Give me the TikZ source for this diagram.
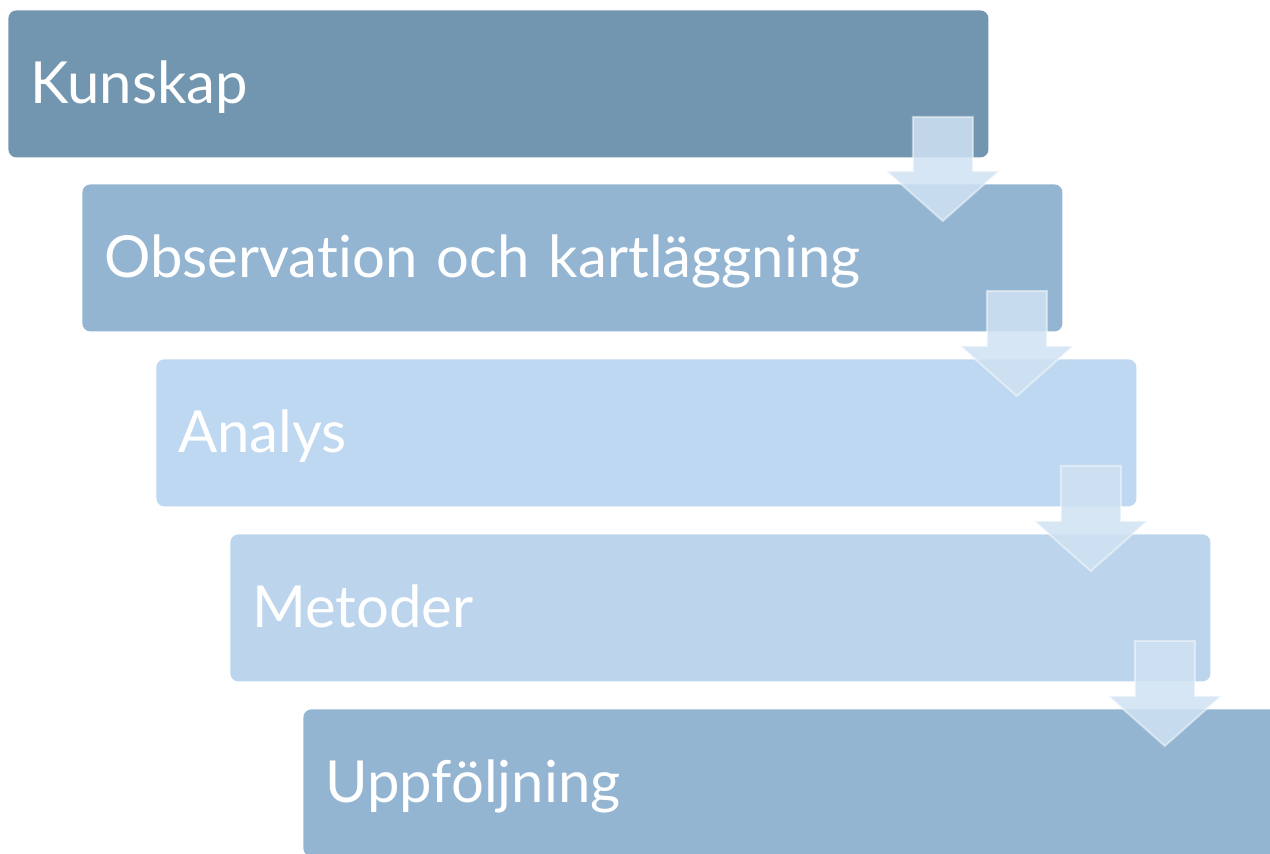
\documentclass[tikz,border=0pt]{standalone}
\usepackage{fontspec}
\setmainfont[Ligatures=NoCommon]{Lato}
\usetikzlibrary{calc}

\definecolor{stagedark}{HTML}{7396B0}
\definecolor{stagemid}{HTML}{93B5D2}
\definecolor{stagelight}{HTML}{BDD8F0}
\definecolor{stagepale}{HTML}{BCD5EC}
\definecolor{flowblue}{HTML}{D0E2F3}

\tikzset{
    stage/.style={anchor=north west, rounded corners=4pt, inner xsep=11pt, inner ysep=0pt,
        minimum width=490pt, minimum height=73.5pt, text width=468pt, align=left,
        text=white, font=\fontsize{29}{34}\selectfont, text height=22pt, text depth=2.5pt},
    flow/.style={fill=flowblue, fill opacity=0.85, draw=white, draw opacity=0.45, line width=1pt}
}

\begin{document}
\begin{tikzpicture}[x=0.5pt, y=-0.5pt]
    \useasboundingbox (0,0) rectangle (1270,853);
    \clip (0,0) rectangle (1270,853);

    % Stages
    \node[stage, fill=stagedark] (kunskap) at (8,10) {Kunskap};
    \node[stage, fill=stagemid] (observation) at (82,184) {Observation och kartläggning};
    \node[stage, fill=stagelight] (analys) at (156,359) {Analys};
    \node[stage, fill=stagepale] (metoder) at (230,534) {Metoder};
    \node[stage, fill=stagemid] (uppfoljning) at (303,709) {Uppföljning};

    % Down arrows between stages
    \foreach \a/\b in {kunskap/observation, observation/analys, analys/metoder, metoder/uppfoljning} {
        \coordinate (top) at ([xshift=-23pt, yshift=20.5pt]\a.south east);
        \coordinate (tip) at ($(top |- \b.north)+(0,-18.5pt)$);
        \coordinate (head) at ($(tip)+(0,25pt)$);
        \draw[flow] ([xshift=-15pt]top) -- ([xshift=15pt]top) -- ($(head)+(15pt,0)$)
            -- ($(head)+(28.25pt,0)$) -- (tip) -- ($(head)+(-28.25pt,0)$)
            -- ($(head)+(-15pt,0)$) -- cycle;
    }
\end{tikzpicture}
\end{document}
